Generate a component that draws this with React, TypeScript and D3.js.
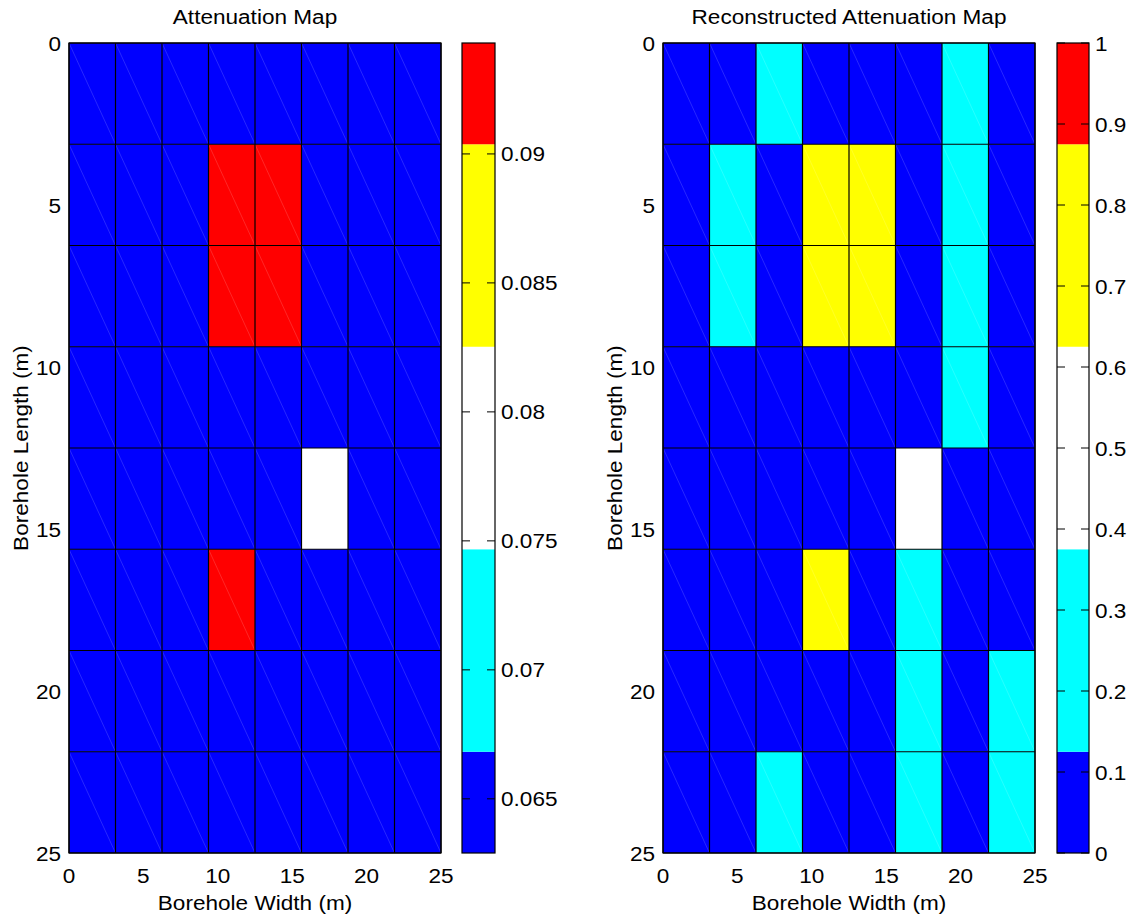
import React from "react";
import * as d3 from "d3";

// ---- data ----
const B = 0.0629; // blue level
const R = 0.0943; // red level
const W = 0.0786; // white level
const trueRows: number[][] = [
  [B, B, B, B, B, B, B, B],
  [B, B, B, R, R, B, B, B],
  [B, B, B, R, R, B, B, B],
  [B, B, B, B, B, B, B, B],
  [B, B, B, B, B, W, B, B],
  [B, B, B, R, B, B, B, B],
  [B, B, B, B, B, B, B, B],
  [B, B, B, B, B, B, B, B],
];
const reconRows: number[][] = [
  [0, 0, 0.25, 0, 0, 0, 0.25, 0],
  [0, 0.25, 0, 0.75, 0.75, 0, 0.25, 0],
  [0, 0.25, 0, 0.75, 0.75, 0, 0.25, 0],
  [0, 0, 0, 0, 0, 0, 0.25, 0],
  [0, 0, 0, 0, 0, 0.5, 0, 0],
  [0, 0, 0, 0.75, 0, 0.25, 0, 0],
  [0, 0, 0, 0, 0, 0.25, 0, 0.25],
  [0, 0, 0.25, 0, 0, 0.25, 0, 0.25],
];
const trueRange = [0.0629, 0.0943];
const reconRange = [0, 1];
const trueTicks = [0.065, 0.07, 0.075, 0.08, 0.085, 0.09];
const trueTickLabels = ["0.065", "0.07", "0.075", "0.08", "0.085", "0.09"];
const reconTicks = [0, 0.1, 0.2, 0.3, 0.4, 0.5, 0.6, 0.7, 0.8, 0.9, 1];
const reconTickLabels = ["0", "0.1", "0.2", "0.3", "0.4", "0.5", "0.6", "0.7", "0.8", "0.9", "1"];
const axisTicks = [0, 5, 10, 15, 20, 25];
const extent = [0, 25];
const palette = ["#0000ff", "#00ffff", "#ffffff", "#ffff00", "#ff0000"];

const FONT = "'Liberation Sans', Arial, sans-serif";
const FS = 21;
const SX = 1.075;
const TOP = 43;
const BOTTOM = 853;

function T(props: { x: number; y: number; anchor?: string; rotate?: number; children: React.ReactNode }) {
  const rot = props.rotate ? ` rotate(${props.rotate})` : "";
  return (
    <text transform={`translate(${props.x},${props.y})${rot} scale(${SX},1)`} textAnchor={props.anchor || "start"}>
      {props.children}
    </text>
  );
}

interface PanelProps {
  left: number;
  width: number;
  cbLeft: number;
  cbWidth: number;
  rows: number[][];
  range: number[];
  ticks: number[];
  tickLabels: string[];
  title: string;
}

function Panel(p: PanelProps) {
  const x = d3.scaleLinear().domain(extent).range([p.left, p.left + p.width]);
  const y = d3.scaleLinear().domain(extent).range([TOP, BOTTOM]);
  const n = p.rows.length;
  const step = (extent[1] - extent[0]) / n;
  const bw = (p.range[1] - p.range[0]) / (palette.length - 1);
  const color = d3
    .scaleQuantize<string>()
    .domain([p.range[0] - bw / 2, p.range[1] + bw / 2])
    .range(palette);
  const cy = d3.scaleLinear().domain(p.range).range([BOTTOM, TOP]);

  const cells: React.ReactNode[] = [];
  p.rows.forEach((row, i) => {
    row.forEach((v, j) => {
      const x0 = x(j * step), x1 = x((j + 1) * step);
      const y0 = y(i * step), y1 = y((i + 1) * step);
      cells.push(
        <g key={`${i}-${j}`}>
          <rect x={x0} y={y0} width={x1 - x0} height={y1 - y0} fill={color(v)} />
          <line x1={x0} y1={y0} x2={x1} y2={y1} stroke="#ffffff" strokeOpacity={0.22} strokeWidth={0.7} />
        </g>
      );
    });
  });
  const grid: React.ReactNode[] = [];
  for (let k = 0; k <= n; k++) {
    const gx = x(k * step), gy = y(k * step);
    grid.push(<line key={`v${k}`} x1={gx} x2={gx} y1={TOP} y2={BOTTOM} stroke="#000" strokeWidth={1.2} />);
    grid.push(<line key={`h${k}`} x1={p.left} x2={p.left + p.width} y1={gy} y2={gy} stroke="#000" strokeWidth={1.2} />);
  }

  const bands = palette.map((c, k) => {
    const lo = Math.max(p.range[0], p.range[0] + (k - 0.5) * bw);
    const hi = Math.min(p.range[1], p.range[0] + (k + 0.5) * bw);
    return <rect key={k} x={p.cbLeft} width={p.cbWidth} y={cy(hi)} height={cy(lo) - cy(hi)} fill={c} />;
  });

  const cx = p.left + p.width / 2;
  return (
    <g fontFamily={FONT} fontSize={FS} fill="#000">
      <T x={cx} y={24} anchor="middle">{p.title}</T>
      {cells}
      {grid}
      <rect x={p.left} y={TOP} width={p.width} height={BOTTOM - TOP} fill="none" stroke="#000" strokeWidth={1.2} />
      {axisTicks.map((t) => (
        <T key={`xt${t}`} x={x(t)} y={883} anchor="middle">{t}</T>
      ))}
      {axisTicks.map((t) => (
        <T key={`yt${t}`} x={p.left - 8} y={y(t) + 7.5} anchor="end">{t}</T>
      ))}
      <T x={cx} y={910} anchor="middle">Borehole Width (m)</T>
      <T x={p.left - 41} y={(TOP + BOTTOM) / 2} anchor="middle" rotate={-90}>Borehole Length (m)</T>
      {bands}
      {p.ticks.map((t, k) => (
        <g key={`ct${k}`}>
          <line x1={p.cbLeft} x2={p.cbLeft + 8} y1={cy(t)} y2={cy(t)} stroke="#000" strokeWidth={1} />
          <line x1={p.cbLeft + p.cbWidth - 8} x2={p.cbLeft + p.cbWidth} y1={cy(t)} y2={cy(t)} stroke="#000" strokeWidth={1} />
          <T x={p.cbLeft + p.cbWidth + 6} y={cy(t) + 7.5}>{p.tickLabels[k]}</T>
        </g>
      ))}
      <rect x={p.cbLeft} y={TOP} width={p.cbWidth} height={BOTTOM - TOP} fill="none" stroke="#000" strokeWidth={1.2} />
    </g>
  );
}

export default function App() {
  return (
    <svg width={1135} height={918} style={{ position: "absolute", left: 0, top: 0, background: "#fff" }}>
      <rect width={1135} height={918} fill="#fff" />
      <Panel left={69} width={372} cbLeft={462} cbWidth={33} rows={trueRows} range={trueRange}
        ticks={trueTicks} tickLabels={trueTickLabels} title="Attenuation Map" />
      <Panel left={663} width={372} cbLeft={1057} cbWidth={32} rows={reconRows} range={reconRange}
        ticks={reconTicks} tickLabels={reconTickLabels} title="Reconstructed Attenuation Map" />
    </svg>
  );
}
